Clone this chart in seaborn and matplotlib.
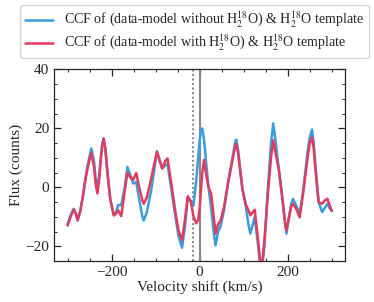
import numpy as np
import pandas as pd
import matplotlib
matplotlib.use("Agg")
import matplotlib.pyplot as plt
import seaborn as sns
from matplotlib.ticker import MultipleLocator
from matplotlib.lines import Line2D

velocity = [-300,-293,-286,-281,-277,-271,-265,-260,-255,-250,-246,-240,-236,-232,-228,-225,-221,-218,-214,-210,
            -203,-195,-190,-185,-178,-170,-164,-158,-151,-144,-138,-130,-127,-120,-110,-103,-97,-90,-85,-78,
            -73,-65,-55,-48,-40,-33,-27,-20,-14,-8,-3,0,3,6,10,15,20,26,32,36,
            42,47,55,65,75,80,83,87,90,97,104,110,115,120,125,132,140,147,155,162,
            167,173,180,188,194,197,203,208,212,220,227,235,245,250,255,259,262,270,278,284,
            290,295,300]

ccf_without = [-12.5,-9.5,-7.3,-9,-11.2,-8,-3,2.5,7,10.5,13.2,9,3,0,4,9.5,15,16.6,13,6,
               -4,-9.5,-8.5,-6,-6,0,6.9,4.5,1.3,1.8,-3.5,-10,-11.2,-8.5,-1,6,12.3,9,6.4,7.5,
               8,0,-10,-16.5,-20.5,-13,-3.5,-4.5,-6.1,2,11,16,19,20,16,8,0.1,-7,-15.5,-19.7,
               -15,-13.5,-8,2,10.5,15,16.2,13,9,-0.5,-5.6,-12,-15.7,-13,-10.1,-19,-30,-20,0,15,
               21.7,15,5.8,-4,-12.5,-15.7,-10,-5.5,-3.9,-6.5,-9,-1,12,17,19.6,15,9,-5,-8.4,-7,
               -5.6,-7,-8]

ccf_with = [-13,-10,-7.5,-9,-11.2,-8,-3,2,6,9.5,11.7,7,1,-2.1,3,8.5,14.5,16.5,13,6,
            -4,-9.5,-9,-7.8,-9.8,-1,5,3.5,2.6,4.9,0.5,-4.5,-5.6,-3.5,3,8,12,8.5,6.4,9,
            9.8,2,-8.5,-14.6,-18,-10.5,-3,-5,-10,-12.2,-11,-7,-1,5,9.3,4,0.1,-2.1,-10,-15.7,
            -12.5,-11.5,-7,2,9.5,13.5,14.8,12,8,-0.5,-5.6,-7.5,-9.5,-8.5,-7.6,-17,-29,-18,-2,10,
            16,11,5.8,-4,-12,-14.6,-10,-6.5,-5.6,-7.5,-10.2,-2,10,15,16.9,13,7.5,-5,-5.6,-4.5,
            -3.9,-6,-8]

label_without = r"CCF of (data-model without H$_2^{18}$O) & H$_2^{18}$O template"
label_with = r"CCF of (data-model with H$_2^{18}$O) & H$_2^{18}$O template"

sns.set_style("ticks")
plt.rcParams["font.family"] = ["Liberation Serif", "DejaVu Serif"]
plt.rcParams["mathtext.fontset"] = "stix"

df = pd.DataFrame({"v": velocity + velocity,
                   "flux": ccf_without + ccf_with,
                   "series": [label_without] * len(velocity) + [label_with] * len(velocity)})

fig = plt.figure(figsize=(3.74, 3.02), dpi=100)
ax = fig.add_axes([0.1452, 0.1358, 0.9225 - 0.1452, 0.7699 - 0.1358])

ax.axvline(0, color="#888888", lw=1.5, zorder=1)
ax.axvline(-14, color="#777777", lw=1.3, ls=(0, (1, 1.5)), zorder=1)

sns.lineplot(data=df, x="v", y="flux", hue="series", ax=ax,
             palette={label_without: "#3b9ddd", label_with: "#e23b5f"},
             lw=1.8, legend=False, zorder=3)

ax.set_xlim(-330, 330)
ax.set_ylim(-25, 40)
ax.xaxis.set_major_locator(MultipleLocator(200))
ax.xaxis.set_minor_locator(MultipleLocator(50))
ax.yaxis.set_major_locator(MultipleLocator(20))
ax.yaxis.set_minor_locator(MultipleLocator(5))
ax.tick_params(which="both", direction="in", top=True, right=True, labelsize=11)
ax.tick_params(which="major", length=5, width=0.9)
ax.tick_params(which="minor", length=2.5, width=0.7)
for s in ax.spines.values():
    s.set_linewidth(0.9)
ax.set_xlabel("Velocity shift (km/s)", fontsize=11, labelpad=1)
ax.set_ylabel("Flux (counts)", fontsize=11, labelpad=2)

handles = [Line2D([], [], color="#3b9ddd", lw=1.8), Line2D([], [], color="#e23b5f", lw=1.8)]
fig.legend(handles, [label_without, label_with], loc="upper center",
           bbox_to_anchor=(0.52, 0.982), fontsize=10.1, frameon=True,
           handlelength=2.0, borderpad=0.35, labelspacing=0.2, handletextpad=0.8,
           borderaxespad=0, fancybox=True)

fig.savefig("out.png", dpi=100)
